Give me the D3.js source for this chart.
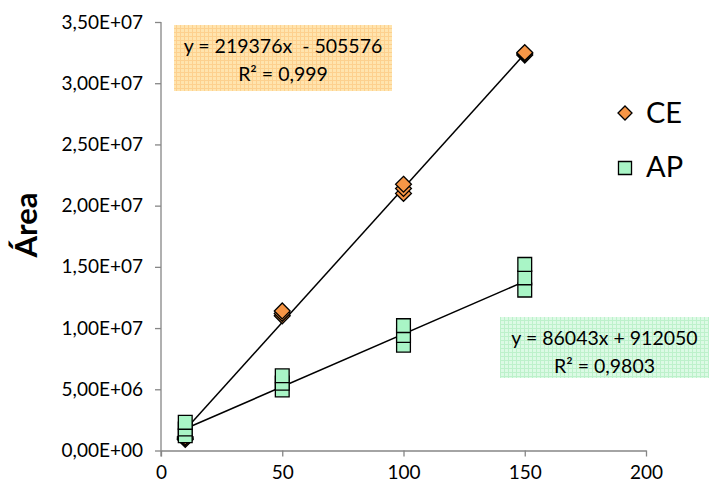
<!DOCTYPE html>
<html>
<head>
<meta charset="utf-8">
<script src="https://cdn.jsdelivr.net/npm/d3@7"></script>
<style>
  body { margin: 0; background: #fff; }
  text { font-family: Lato, "Open Sans", sans-serif; fill: #000; }
</style>
</head>
<body>
<svg id="chart" width="709" height="488"></svg>
<script>
// concentrations and replicate areas
var ceX = [10, 10, 10, 50, 50, 50, 100, 100, 100, 150, 150, 150];
var ceY = [0.9e6, 1.0e6, 1.1e6, 11.0e6, 11.2e6, 11.4e6, 21.0e6, 21.4e6, 21.75e6, 32.3e6, 32.4e6, 32.5e6];
var apX = [10, 10, 10, 50, 50, 50, 100, 100, 100, 150, 150, 150];
var apY = [1.2e6, 1.75e6, 2.3e6, 4.95e6, 5.5e6, 6.1e6, 8.6e6, 9.4e6, 10.2e6, 13.1e6, 14.1e6, 15.2e6];

// linear fits (slope, intercept) as printed on the chart
var ceFit = [219376, -505576];
var apFit = [86043, 912050];
var fitRange = [10, 150];

var xTicks = [0, 50, 100, 150, 200];
var yTicks = [0, 5e6, 1e7, 1.5e7, 2e7, 2.5e7, 3e7, 3.5e7];
var yTickLabels = ["0,00E+00", "5,00E+06", "1,00E+07", "1,50E+07", "2,00E+07", "2,50E+07", "3,00E+07", "3,50E+07"];

var svg = d3.select('#chart');

var x = d3.scaleLinear().domain([0, 200]).range([161, 646]);
var y = d3.scaleLinear().domain([0, 3.5e7]).range([450.5, 22]);

// pattern fills for the equation labels
var defs = svg.append('defs');
function gridPattern(id, base, line) {
   var p = defs.append('pattern')
      .attr('id', id)
      .attr('width', 4).attr('height', 4)
      .attr('patternUnits', 'userSpaceOnUse');
   p.append('rect').attr('width', 4).attr('height', 4).attr('fill', base);
   p.append('path').attr('d', 'M0,0.5H4M0.5,0V4')
      .attr('stroke', line).attr('stroke-width', 1);
}
gridPattern('orangeGrid', '#FFE4AE', '#FDD08E');
gridPattern('greenGrid', '#DCFAE5', '#BDF1CB');

// axes
var yAxis = d3.axisLeft(y).tickValues(yTicks).tickSize(6).tickSizeOuter(0)
   .tickFormat(function(d, i) { return yTickLabels[i]; });
var xAxis = d3.axisBottom(x).tickValues(xTicks).tickSize(6).tickSizeOuter(0);

var gy = svg.append('g').attr('transform', 'translate(161,0)').call(yAxis);
var gx = svg.append('g').attr('transform', 'translate(0,450.5)').call(xAxis);

[gx, gy].forEach(function(g) {
   g.selectAll('path, line').attr('stroke', '#868686').attr('stroke-width', 1.3);
   g.selectAll('text').style('font-size', '19px').attr('fill', '#000');
});
gy.selectAll('text').attr('x', -18);
gx.selectAll('text').attr('y', 15);
gy.select('.domain').attr('d', 'M0,' + y(3.5e7) + 'V' + (y(0) + 6));

// y axis title
svg.append('text')
   .attr('transform', 'translate(37,225) rotate(-90)')
   .attr('text-anchor', 'middle')
   .style('font-size', '31px')
   .style('font-weight', 'bold')
   .text('Área');

// trendlines
function fitLine(fit) {
   return fitRange.map(function(v) { return [x(v), y(fit[0] * v + fit[1])]; });
}
[ceFit, apFit].forEach(function(fit) {
   svg.append('path')
      .attr('d', d3.line()(fitLine(fit)))
      .attr('stroke', '#000')
      .attr('stroke-width', 1.5)
      .attr('fill', 'none');
});

// markers
var diamond = d3.symbol().type(d3.symbolDiamond2).size(160);
var square = d3.symbol().type(d3.symbolSquare).size(190);

svg.append('g').selectAll('path')
   .data(ceY)
   .join('path')
   .attr('d', diamond)
   .attr('transform', function(d, i) { return 'translate(' + x(ceX[i]) + ',' + y(d) + ')'; })
   .attr('fill', '#F79646')
   .attr('stroke', '#000')
   .attr('stroke-width', 1.3);

svg.append('g').selectAll('path')
   .data(apY)
   .join('path')
   .attr('d', square)
   .attr('transform', function(d, i) { return 'translate(' + x(apX[i]) + ',' + y(d) + ')'; })
   .attr('fill', '#A9F5C6')
   .attr('stroke', '#000')
   .attr('stroke-width', 1.3);

// equation labels
function eqLabel(bx, by, bw, bh, fill, line1, line2) {
   svg.append('rect')
      .attr('x', bx).attr('y', by)
      .attr('width', bw).attr('height', bh)
      .attr('fill', fill);
   var cx = bx + bw / 2;
   svg.append('text').attr('x', cx).attr('y', by + 28)
      .attr('text-anchor', 'middle').style('font-size', '19.5px')
      .style('white-space', 'pre').text(line1);
   svg.append('text').attr('x', cx).attr('y', by + 56)
      .attr('text-anchor', 'middle').style('font-size', '19.5px')
      .text(line2);
}
eqLabel(174, 25, 218, 66, 'url(#orangeGrid)', 'y = 219376x  - 505576', 'R² = 0,999');
eqLabel(500, 317, 209, 61, 'url(#greenGrid)', 'y = 86043x + 912050', 'R² = 0,9803');

// legend
var legend = svg.append('g');
legend.append('path')
   .attr('d', d3.symbol().type(d3.symbolDiamond2).size(125))
   .attr('transform', 'translate(625,113)')
   .attr('fill', '#F79646').attr('stroke', '#000').attr('stroke-width', 1.3);
legend.append('text').attr('x', 646).attr('y', 123).style('font-size', '29px').text('CE');
legend.append('path')
   .attr('d', d3.symbol().type(d3.symbolSquare).size(170))
   .attr('transform', 'translate(625,168)')
   .attr('fill', '#A9F5C6').attr('stroke', '#000').attr('stroke-width', 1.3);
legend.append('text').attr('x', 646).attr('y', 177).style('font-size', '29px').text('AP');
</script>
</body>
</html>
